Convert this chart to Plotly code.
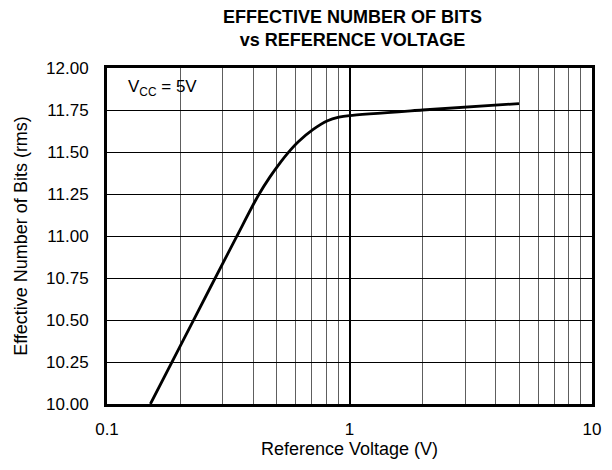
import plotly.graph_objects as go

# Data
vref = [0.151, 0.222, 0.342, 0.42, 0.47, 0.52, 0.56, 0.615, 0.706, 0.812, 0.904, 1.0, 2.0, 5.0]
enob = [10.00, 10.47, 10.995, 11.24, 11.352, 11.44, 11.498, 11.561, 11.633, 11.686, 11.707, 11.717, 11.75, 11.788]

x_tickvals = [0.1, 1, 10]
x_ticktext = ["0.1", "1", "10"]
y_tickvals = [10.00, 10.25, 10.50, 10.75, 11.00, 11.25, 11.50, 11.75, 12.00]
y_ticktext = ["10.00", "10.25", "10.50", "10.75", "11.00", "11.25", "11.50", "11.75", "12.00"]

FONT = "Liberation Sans, Arial, Helvetica, sans-serif"

# The page body has an 8px default margin; size the figure so it fits the 612x470 window.
W, H = 604, 462

fig = go.Figure()
fig.add_trace(go.Scatter(
    x=vref, y=enob, mode="lines",
    line=dict(color="black", width=2.8, shape="spline", smoothing=0.8),
    showlegend=False, hoverinfo="skip",
))

fig.update_layout(
    width=W, height=H,
    margin=dict(l=96, r=11, t=60, b=66),
    paper_bgcolor="white", plot_bgcolor="white",
    font=dict(family=FONT, size=17, color="black"),
    title=dict(
        text="<b>EFFECTIVE NUMBER OF BITS<br>vs REFERENCE VOLTAGE</b>",
        x=(96 + 593) / 2 / W, xanchor="center",
        y=0.968, yanchor="top",
        font=dict(family=FONT, size=18, color="black"),
    ),
    xaxis=dict(
        type="log", range=[-1, 1],
        tickvals=x_tickvals, ticktext=x_ticktext,
        showgrid=True, gridcolor="black", gridwidth=2,
        minor=dict(dtick="D1", showgrid=True, gridcolor="#5e5e5e", gridwidth=1, ticks=""),
        showline=True, linecolor="black", linewidth=3, mirror=True,
        ticks="", zeroline=False, ticklabelstandoff=8,
        title=dict(text="Reference Voltage (V)", font=dict(size=18), standoff=4),
        tickfont=dict(size=17),
    ),
    yaxis=dict(
        range=[10, 12],
        tickvals=y_tickvals, ticktext=y_ticktext,
        showgrid=True, gridcolor="black", gridwidth=1,
        showline=True, linecolor="black", linewidth=3, mirror=True,
        ticks="", zeroline=False, ticklabelstandoff=12,
        title=dict(text="Effective Number of Bits (rms)", font=dict(size=18), standoff=14),
        tickfont=dict(size=17),
    ),
    annotations=[dict(
        text="V<sub>CC</sub> = 5V", x=0.04, y=0.94, xref="paper", yref="paper",
        xanchor="left", yanchor="middle", showarrow=False,
        font=dict(family=FONT, size=17, color="black"),
    )],
)

fig.write_html("out.html")
